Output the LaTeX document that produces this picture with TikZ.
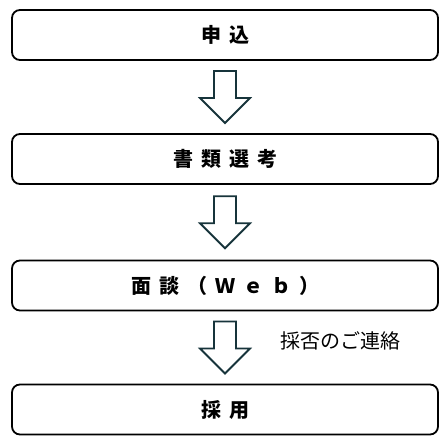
\documentclass[tikz,border=0pt]{standalone}
\usepackage{fontspec}
\setmainfont{Noto Sans CJK JP}
\usetikzlibrary{calc}
\definecolor{arrowteal}{HTML}{17343B}
\newcommand\gap{\hspace{8pt}}
\begin{document}
\begin{tikzpicture}[
			x=1pt, y=-1pt,
			stepbox/.style={draw, line width=1.8pt, rounded corners=8pt,
				minimum width=426pt, minimum height=50pt, inner sep=0pt,
				font=\fontsize{20}{20}\selectfont\bfseries},
			blockarrow/.pic={
				\draw[arrowteal, line width=1.8pt, line join=miter]
					(-11,-26) -- (-11,1) -- (-25,1) -- (0,26) -- (25,1) -- (11,1) -- (11,-26) -- cycle;
			}
		]
			\useasboundingbox (0,0) rectangle (446,444);
			
			% the four steps
			\node[stepbox] (apply) at (225, 35) {申\gap 込};
			\node[stepbox] (docs) at (225, 159) {書\gap 類\gap 選\gap 考};
			\node[stepbox] (interview) at (225, 285.5) {面\gap 談\gap （\gap Ｗ\gap ｅ\gap ｂ\gap ）};
			\node[stepbox] (hire) at (225, 409.5) {採\gap 用};
			
			% block arrows between them
			\pic (a1) at ($(apply.south)!0.5!(docs.north)$) {blockarrow};
			\pic (a2) at ($(docs.south)!0.5!(interview.north)$) {blockarrow};
			\pic (a3) at ($(interview.south)!0.5!(hire.north)$) {blockarrow};
			\coordinate (a3mid) at ($(interview.south)!0.5!(hire.north)$);
			
			\node[anchor=west, font=\fontsize{20}{20}\selectfont] (notice) at ($(a3mid)+(52,-7)$) {採否のご連絡};
		\end{tikzpicture}
\end{document}
